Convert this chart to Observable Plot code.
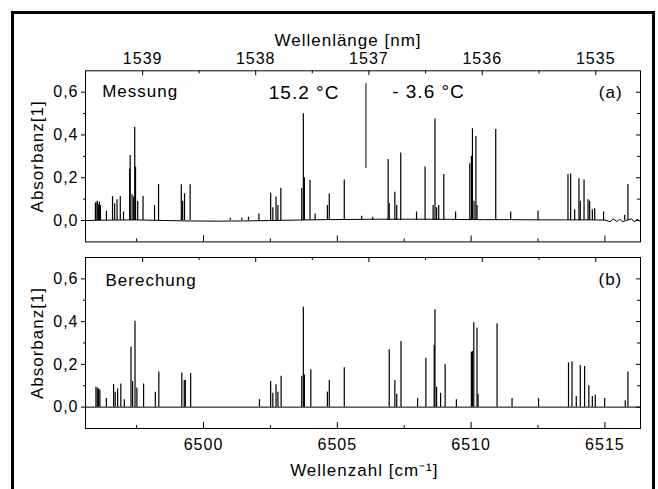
<!DOCTYPE html>
<html><head><meta charset="utf-8">
<script src="https://cdn.jsdelivr.net/npm/d3@7"></script>
<script src="https://cdn.jsdelivr.net/npm/@observablehq/plot@0.6"></script>
<style>
body{margin:0;background:#fff;}
#wrap{position:relative;width:658px;height:489px;overflow:hidden;background:#fff;}
#border{position:absolute;left:11px;top:11px;width:644px;height:520px;border:3px solid #000;box-sizing:border-box;}
#wrap svg{position:absolute;left:0;background:none;}
</style></head><body><div id="wrap"></div>
<script>
// measured spectrum (a): line positions [cm-1] and absorbance
const measuredNu = [6495.96,6495.98,6496.03,6496.07,6496.11,6496.15,6496.37,6496.60,6496.68,6496.77,6496.89,6497.01,6497.24,6497.26,6497.33,6497.39,6497.43,6497.46,6497.54,6497.74,6498.17,6498.32,6499.17,6499.22,6499.29,6499.50,6501.00,6501.43,6501.68,6502.07,6502.51,6502.59,6502.71,6502.78,6502.89,6503.67,6503.73,6503.77,6503.98,6504.17,6504.63,6504.70,6505.26,6505.91,6506.32,6506.90,6506.94,6507.15,6507.22,6507.37,6507.96,6508.28,6508.58,6508.65,6508.71,6508.79,6508.98,6509.42,6509.95,6510.01,6510.05,6510.11,6510.18,6510.22,6510.92,6511.48,6512.50,6513.62,6513.72,6513.87,6514.03,6514.08,6514.22,6514.37,6514.43,6514.53,6514.62,6514.95,6515.74,6515.86];
const measuredA = [0.08,0.085,0.09,0.075,0.085,0.07,0.043,0.112,0.078,0.097,0.112,0.04,0.24,0.304,0.12,0.11,0.436,0.25,0.09,0.112,0.07,0.168,0.167,0.09,0.125,0.167,0.01,0.01,0.015,0.03,0.128,0.06,0.11,0.07,0.151,0.15,0.499,0.2,0.187,0.03,0.07,0.125,0.19,0.02,0.015,0.285,0.08,0.132,0.07,0.316,0.04,0.25,0.07,0.475,0.06,0.07,0.215,0.04,0.265,0.3,0.429,0.09,0.393,0.07,0.425,0.04,0.045,0.215,0.218,0.05,0.195,0.09,0.19,0.097,0.09,0.05,0.055,0.04,0.025,0.168];
const baseNu = [6495.59,6496.5,6497.5,6498.5,6499.5,6500.5,6501.5,6502.5,6503.5,6504.5,6505.5,6506.5,6507.5,6508.5,6509.5,6510.5,6511.5,6512.5,6513.5,6514.5,6515.0,6515.2,6515.3,6515.45,6515.55,6515.65,6516.0,6516.1,6516.2,6516.33];
const baseA = [0.0,0.002,0.003,0.0,-0.002,-0.003,-0.002,0.0,0.002,0.004,0.005,0.006,0.006,0.006,0.005,0.004,0.004,0.003,0.003,0.003,0.002,-0.006,0.008,-0.005,0.007,-0.006,0.008,-0.007,0.006,-0.004];
// calculated spectrum (b)
const calcNu = [6495.98,6496.03,6496.08,6496.13,6496.37,6496.64,6496.70,6496.79,6496.91,6497.04,6497.29,6497.35,6497.44,6497.51,6497.76,6498.20,6498.33,6499.19,6499.28,6499.32,6499.52,6502.09,6502.51,6502.59,6502.71,6502.78,6502.90,6503.67,6503.73,6503.77,6504.01,6504.63,6504.70,6505.26,6506.94,6507.15,6507.22,6507.38,6508.00,6508.31,6508.62,6508.65,6508.71,6508.86,6509.03,6509.45,6510.01,6510.05,6510.10,6510.22,6510.26,6510.97,6511.53,6512.52,6513.64,6513.77,6513.93,6514.08,6514.24,6514.40,6514.53,6514.64,6514.99,6515.76,6515.86];
const calcA = [0.093,0.09,0.085,0.08,0.04,0.106,0.07,0.085,0.108,0.035,0.28,0.12,0.402,0.09,0.108,0.07,0.164,0.16,0.125,0.125,0.157,0.035,0.12,0.065,0.105,0.07,0.145,0.145,0.467,0.15,0.175,0.07,0.125,0.184,0.268,0.125,0.06,0.307,0.04,0.229,0.29,0.455,0.093,0.065,0.2,0.035,0.257,0.26,0.395,0.37,0.06,0.39,0.04,0.04,0.207,0.212,0.05,0.195,0.19,0.1,0.05,0.055,0.04,0.03,0.164];
// temperature separator
const separator = [{nu: 6506.07, from: 0.243, to: 0.64}];
// axes
const xDomain = [6495.59, 6516.33];
const yDomain = [-0.1, 0.7];
const wavelengthTicks = [1539, 1538, 1537, 1536, 1535];
const wavelengthMinor = [1538.5, 1537.5, 1536.5, 1535.5];
const wavenumberTicks = [6500, 6505, 6510, 6515];
const wavenumberMinor = [6497.5, 6502.5, 6507.5, 6512.5];
const yTicks = [0, 0.2, 0.4, 0.6];
const yTickLabels = ["0,0", "0,2", "0,4", "0,6"];
const yMinor = [0.1, 0.3, 0.5];

const measured = measuredNu.map((nu, i) => ({nu, A: measuredA[i]}));
const calculated = calcNu.map((nu, i) => ({nu, A: calcA[i]}));
const baseline = baseNu.map((nu, i) => ({nu, A: baseA[i]}));

const W = 658, ML = 85, MR = 18, innerW = W - ML - MR;
const FONT = '"Liberation Sans", Arial, Helvetica, sans-serif';

function frameTicks(innerH) {
  return [
    Plot.frame({stroke: "black"}),
    Plot.ruleX(wavelengthTicks, {x: d => 1e7 / d, insetBottom: innerH - 5}),
    Plot.ruleX(wavelengthMinor, {x: d => 1e7 / d, insetBottom: innerH - 3}),
    Plot.ruleX(wavenumberTicks, {x: d => d, insetTop: innerH - 6}),
    Plot.ruleX(wavenumberMinor, {x: d => d, insetTop: innerH - 3}),
    Plot.ruleY(yTicks, {y: d => d, insetLeft: innerW - 4}),
    Plot.ruleY(yMinor, {y: d => d, insetLeft: innerW - 3}),
    Plot.ruleY(yMinor, {y: d => d, insetLeft: -2, insetRight: innerW}),
    Plot.axisY(yTicks, {anchor: "left", tickSize: 4, tickPadding: 3, fontSize: 16, label: null,
      tickFormat: d => yTickLabels[yTicks.indexOf(d)]}),
    Plot.text(["Absorbanz[1]"], {text: d => d, frameAnchor: "left", dx: -43, rotate: -90,
      textAnchor: "middle", lineAnchor: "bottom", fontSize: 17})
  ];
}

function note(t, dx, dy, size) {
  return Plot.text([t], {text: d => d, frameAnchor: "top-left", dx, dy, textAnchor: "start", lineAnchor: "bottom", fontSize: size});
}

const hA = 250, mTa = 70.3, mBa = 8.6, innerHa = hA - mTa - mBa;
const panelA = Plot.plot({
  width: W, height: hA, marginLeft: ML, marginRight: MR, marginTop: mTa, marginBottom: mBa,
  x: {domain: xDomain, axis: null}, y: {domain: yDomain, axis: null},
  style: {fontFamily: FONT, letterSpacing: "1px", background: "none", overflow: "visible", color: "black"},
  marks: [
    Plot.line(baseline, {x: "nu", y: "A", stroke: "black", strokeWidth: 1, clip: true}),
    Plot.ruleX(measured, {x: "nu", y1: 0, y2: "A", stroke: "black", strokeWidth: 1.2, clip: true}),
    Plot.ruleX(separator, {x: "nu", y1: "from", y2: "to", stroke: "black", strokeWidth: 1}),
    ...frameTicks(innerHa),
    Plot.axisX(wavelengthTicks.map(l => 1e7 / l), {anchor: "top", tickSize: 0, tickPadding: 7, fontSize: 16, label: null,
      tickFormat: d => String(Math.round(1e7 / d))}),
    Plot.text(["Wellenlänge [nm]"], {text: d => d, frameAnchor: "top", dx: -15, dy: -25.3, lineAnchor: "bottom", fontSize: 17}),
    note("Messung", 16.7, 26.4, 17),
    note("15.2 °C", 183.3, 28, 19),
    note("- 3.6 °C", 306.7, 27.4, 19),
    note("(a)", 513.3, 27, 17)
  ]
});

const hB = 239, mTb = 7, mBb = 61, innerHb = hB - mTb - mBb;
const panelB = Plot.plot({
  width: W, height: hB, marginLeft: ML, marginRight: MR, marginTop: mTb, marginBottom: mBb,
  x: {domain: xDomain, axis: null}, y: {domain: yDomain, axis: null},
  style: {fontFamily: FONT, letterSpacing: "1px", background: "none", overflow: "visible", color: "black"},
  marks: [
    Plot.ruleY([0], {stroke: "black", strokeWidth: 1}),
    Plot.ruleX(calculated, {x: "nu", y1: 0, y2: "A", stroke: "black", strokeWidth: 1.2, clip: true}),
    ...frameTicks(innerHb),
    Plot.axisX(wavenumberTicks, {anchor: "bottom", tickSize: 0, tickPadding: 10, fontSize: 16, label: null,
      tickFormat: d => String(d)}),
    Plot.text(["Wellenzahl [cm⁻¹]"], {text: d => d, frameAnchor: "bottom", dx: 1.3, dy: 47, lineAnchor: "bottom", fontSize: 17}),
    note("Berechung", 20, 28, 17),
    note("(b)", 513, 27.3, 17)
  ]
});

const wrap = document.getElementById("wrap");
panelA.style.top = "0px";
panelB.style.top = "250px";
wrap.appendChild(panelA);
wrap.appendChild(panelB);
const border = document.createElement("div");
border.id = "border";
wrap.appendChild(border);
</script>
</body></html>
